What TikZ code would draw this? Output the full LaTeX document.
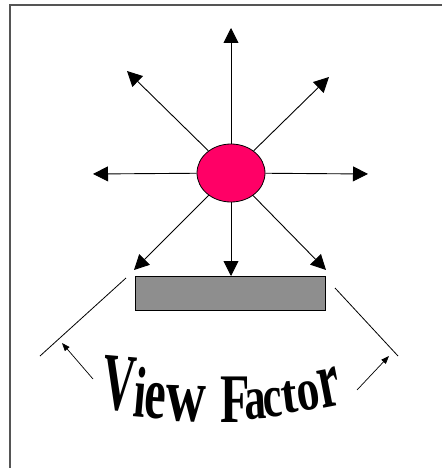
\documentclass[tikz,border=0pt]{standalone}
\usepackage{fontspec}
\setmainfont{Liberation Serif}
\usepackage{graphicx}
\usetikzlibrary{arrows.meta,shapes.geometric}
\definecolor{srcpink}{HTML}{FF0066}
\definecolor{plategray}{HTML}{8E8E8E}
\definecolor{framegray}{HTML}{555555}
\tikzset{
  ray/.style={line width=0.9pt,-{Triangle[length=15pt,width=15pt]}},
  smallarr/.style={line width=0.7pt,-{Triangle[length=8pt,width=6pt]}},
  guide/.style={line width=0.8pt},
  letter/.style={anchor=base,inner sep=0pt,font=\fontsize{48}{48}\selectfont\bfseries},
}
\newcommand{\vf}[3]{\scalebox{#1}[#2]{#3}}
\begin{document}
\begin{tikzpicture}[x=1pt,y=-1pt]
\useasboundingbox (0,0) rectangle (442,468);
% frame
\draw[framegray,line width=2pt] (9.5,468) -- (9.5,5.5) -- (442,5.5);
% source and plate
\node[ellipse,draw,line width=0.8pt,fill=srcpink,minimum width=68pt,minimum height=58pt,inner sep=0pt] (src) at (231,173) {};
\node[draw,line width=0.8pt,fill=plategray,minimum width=190pt,minimum height=34pt,inner sep=0pt] (plate) at (230,293) {};
% tips
\coordinate (tN) at (231,28);
\coordinate (tNE) at (329,77);
\coordinate (tE) at (368,174);
\coordinate (tSE) at (326,270);
\coordinate (tS) at (231,276);
\coordinate (tSW) at (134,270);
\coordinate (tW) at (93,174);
\coordinate (tNW) at (127,71);
\foreach \t in {tN,tNE,tE,tSE,tS,tSW,tW,tNW}{\draw[ray] (src) -- (\t);}
% guide lines
\coordinate (gl1) at (126,278); \coordinate (gl2) at (40,356);
\coordinate (gr1) at (335,288); \coordinate (gr2) at (398,356);
\draw[guide] (gl1) -- (gl2);
\draw[guide] (gr1) -- (gr2);
\coordinate (al1) at (93,379); \coordinate (al2) at (62,343);
\coordinate (ar1) at (357,390); \coordinate (ar2) at (389,356);
\draw[smallarr] (al1) -- (al2);
\draw[smallarr] (ar1) -- (ar2);
% curved word art text
\node[letter,rotate=-5] (l1) at (117,410) {\vf{0.95}{1.7}{V}};
\node[letter,rotate=-5] (l2) at (138,417) {\vf{0.9}{1.5}{i}};
\node[letter,rotate=-4] (l3) at (154,418) {\vf{1.0}{1.55}{e}};
\node[letter,rotate=-2] (l4) at (185,421) {\vf{1.15}{1.6}{w}};
\node[letter,rotate=0] (l5) at (235,422) {\vf{1.0}{1.45}{F}};
\node[letter,rotate=3] (l6) at (256,419) {\vf{0.9}{1.3}{a}};
\node[letter,rotate=5] (l7) at (274,417) {\vf{0.9}{1.25}{c}};
\node[letter,rotate=7] (l8) at (291,413) {\vf{1.0}{1.15}{t}};
\node[letter,rotate=9] (l9) at (311,410) {\vf{0.95}{1.25}{o}};
\node[letter,rotate=11] (l10) at (333,406) {\vf{1.0}{1.7}{r}};
\end{tikzpicture}
\end{document}
